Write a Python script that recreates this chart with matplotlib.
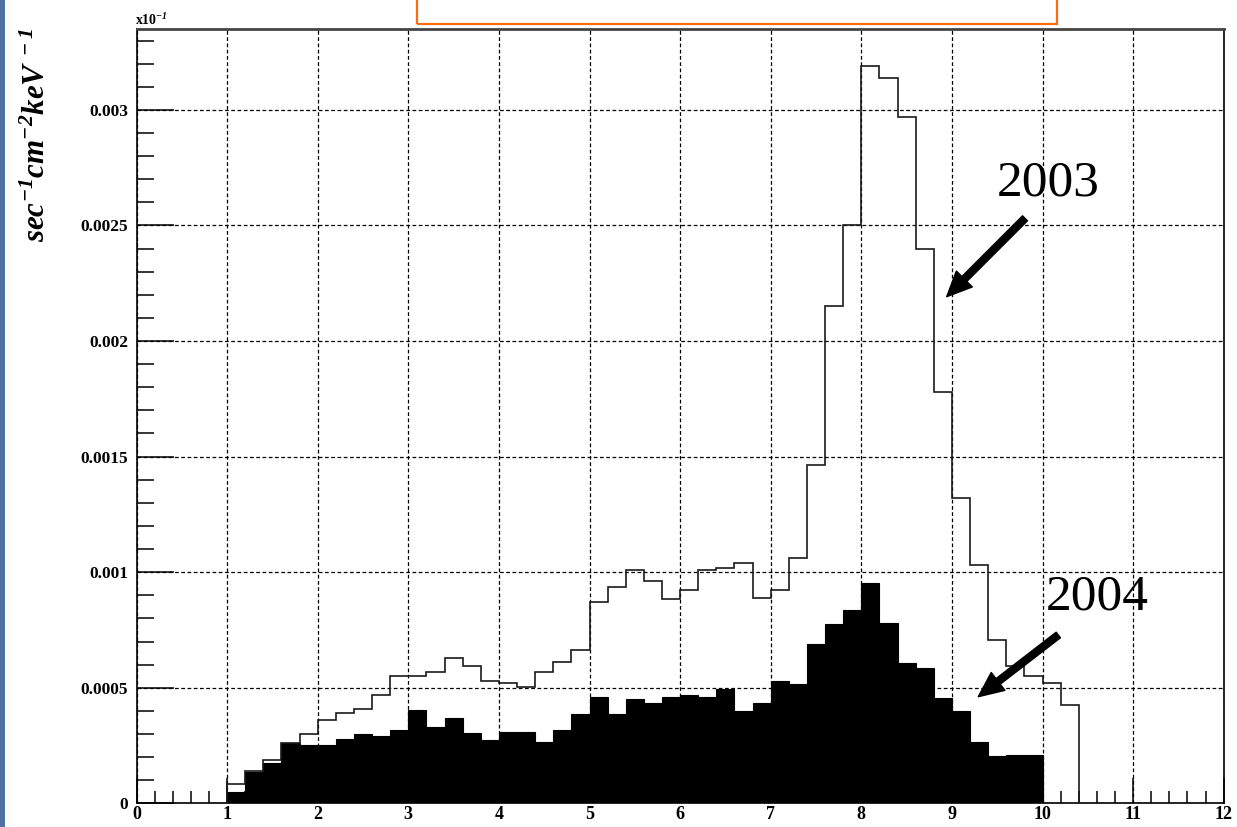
import numpy as np
import matplotlib
matplotlib.use("Agg")
import matplotlib.pyplot as plt
from matplotlib.ticker import MultipleLocator, FixedLocator, FixedFormatter
from matplotlib.patches import Rectangle

# ---------------- data ----------------
bin_width = 0.2
start_2003 = 1.0
start_2004 = 1.0
flux_2003 = [0.000082, 0.000138, 0.000187, 0.000263, 0.000300, 0.000362, 0.000390,
             0.000410, 0.000468, 0.000550, 0.000550, 0.000570, 0.000628, 0.000592,
             0.000528, 0.000522, 0.000503, 0.000570, 0.000613, 0.000662, 0.000871,
             0.000934, 0.001009, 0.000961, 0.000883, 0.000925, 0.001010, 0.001016,
             0.001038, 0.000889, 0.000925, 0.001060, 0.001463, 0.002150, 0.002500,
             0.003190, 0.003140, 0.002970, 0.002400, 0.001780, 0.001320, 0.001030,
             0.000706, 0.000593, 0.000550, 0.000521, 0.000426]
flux_2004 = [0.000049, 0.000136, 0.000176, 0.000261, 0.000254, 0.000254, 0.000278,
             0.000300, 0.000293, 0.000315, 0.000404, 0.000329, 0.000369, 0.000302,
             0.000274, 0.000307, 0.000307, 0.000267, 0.000315, 0.000387, 0.000460,
             0.000387, 0.000453, 0.000434, 0.000460, 0.000470, 0.000460, 0.000493,
             0.000401, 0.000434, 0.000530, 0.000518, 0.000691, 0.000775, 0.000837,
             0.000955, 0.000782, 0.000607, 0.000587, 0.000455, 0.000400, 0.000267,
             0.000205, 0.000210, 0.000210]
x_ticks = list(range(0, 13))
y_ticks = [0, 0.0005, 0.001, 0.0015, 0.002, 0.0025, 0.003]
y_tick_labels = ["0", "0.0005", "0.001", "0.0015", "0.002", "0.0025", "0.003"]
label_2003 = "2003"
label_2004 = "2004"
y_label = r"sec$^{-1}$cm$^{-2}$keV$^{\ -1}$"

edges_2003 = np.round(start_2003 + bin_width * np.arange(len(flux_2003) + 1), 3)
edges_2004 = np.round(start_2004 + bin_width * np.arange(len(flux_2004) + 1), 3)

# ---------------- style ----------------
plt.rcParams["font.family"] = ["Liberation Serif", "DejaVu Serif"]
plt.rcParams["mathtext.fontset"] = "custom"
plt.rcParams["mathtext.rm"] = "Liberation Serif:bold:italic"
plt.rcParams["mathtext.it"] = "Liberation Serif:bold:italic"
plt.rcParams["mathtext.bf"] = "Liberation Serif:bold:italic"

W, H = 1237, 827
fig = plt.figure(figsize=(W / 100, H / 100), dpi=100)
fig.patch.set_facecolor("white")

ax_left, ax_right = 136.5, 1223.7
ax_top, ax_bot = 29.0, 803.3
ax = fig.add_axes([ax_left / W, 1 - ax_bot / H, (ax_right - ax_left) / W, (ax_bot - ax_top) / H])
ax.set_xlim(0, 12)
ax.set_ylim(0, 0.00335)
ax.set_axisbelow(True)

ax.grid(True, which="major", color="black", linestyle=(0, (3, 2)), linewidth=0.9)

ax.stairs(flux_2004, edges_2004, baseline=0, fill=True, facecolor="black",
          edgecolor="black", linewidth=0.8, zorder=2)
ax.stairs(flux_2003, edges_2003, baseline=0, fill=False, color="#1a1a1a",
          linewidth=1.2, zorder=3)

ax.xaxis.set_major_locator(FixedLocator(x_ticks))
ax.xaxis.set_minor_locator(MultipleLocator(0.2))
ax.yaxis.set_major_locator(FixedLocator(y_ticks))
ax.yaxis.set_major_formatter(FixedFormatter(y_tick_labels))
ax.yaxis.set_minor_locator(MultipleLocator(0.0001))

ax.tick_params(axis="both", which="both", direction="in", top=False, right=False,
               width=1.1, color="black")
ax.tick_params(axis="y", which="major", length=26.5, pad=6, labelsize=12.5)
ax.tick_params(axis="y", which="minor", length=12.5)
ax.tick_params(axis="x", which="major", length=18, pad=2, labelsize=13)
ax.tick_params(axis="x", which="minor", length=8.6)
for lab in ax.get_xticklabels() + ax.get_yticklabels():
    lab.set_fontweight("bold")

for s in ["left", "bottom", "right"]:
    ax.spines[s].set_linewidth(1.2)
    ax.spines[s].set_color("black")
ax.spines["top"].set_linewidth(2.0)
ax.spines["top"].set_color("#444444")

# exponent label
fig.text(135 / W, 1 - 25 / H, r"x10$^{\mathbf{-1}}$", fontsize=10, fontweight="bold",
         ha="left", va="baseline")

# y label
fig.text(37 / W, 1 - 135 / H, y_label, rotation=90, fontsize=22.3, fontweight="bold",
         fontstyle="italic", ha="center", va="center")


def px2data(px, py):
    x = (px - ax_left) / (ax_right - ax_left) * 12
    y = (ax_bot - py) / (ax_bot - ax_top) * 0.00335
    return x, y


arrow_kw = dict(arrowstyle="simple,head_length=1.0,head_width=0.9,tail_width=0.28",
                mutation_scale=18, fc="black", ec="black", shrinkA=0, shrinkB=0)
ax.annotate("", xy=px2data(946.7, 296.7), xytext=px2data(1025, 218.3),
            arrowprops=arrow_kw, zorder=5)
ax.annotate("", xy=px2data(978.3, 696.7), xytext=px2data(1058.3, 635),
            arrowprops=arrow_kw, zorder=5)
tx, ty = px2data(1048, 183)
ax.text(tx, ty, label_2003, fontsize=37, ha="center", va="center", zorder=5)
tx, ty = px2data(1097, 597)
ax.text(tx, ty, label_2004, fontsize=37, ha="center", va="center", zorder=5)

# left blue strip and orange box (page decorations)
fig.patches.append(Rectangle((0, 0), 5 / W, 1, transform=fig.transFigure,
                             facecolor="#4F72A3", edgecolor="none", zorder=10))
fig.patches.append(Rectangle((417 / W, 1 - 24 / H), (1057 - 417) / W, 40 / H,
                             transform=fig.transFigure, facecolor="none",
                             edgecolor="#FF6A10", linewidth=1.6, zorder=10))

fig.savefig("out.png", dpi=100, facecolor="white")
